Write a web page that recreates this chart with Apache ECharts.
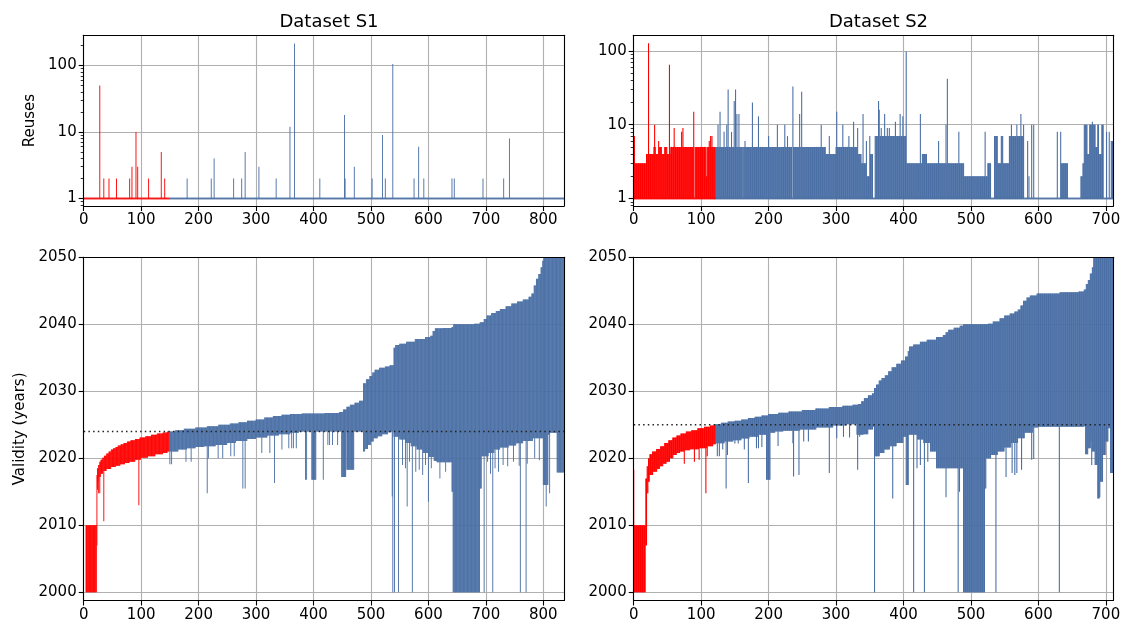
<!DOCTYPE html>
<html><head><meta charset="utf-8">
<script src="https://cdn.jsdelivr.net/npm/echarts@6/dist/echarts.min.js"></script>
<style>html,body{margin:0;padding:0;background:#fff}#c{width:1128px;height:628px}</style>
</head><body><div id="c"></div>
<script>
// ================= DATA =================
const titles = ['Dataset S1', 'Dataset S2'];
const s1Count = 836, s2Count = 711;          // number of certificates (x extent)
const s1RedCount = 150, s2RedCount = 122;    // first items drawn in red
const s1Threshold = 2024, s2Threshold = 2025; // dotted reference year
const s1XTicks = [0,100,200,300,400,500,600,700,800];
const s2XTicks = [0,100,200,300,400,500,600,700];
const yearTicks = [2000,2010,2020,2030,2040,2050];
const logTicks = [1,10,100];
const minorLogTicks = [0.8,0.9,2,3,4,5,6,7,8,9,20,30,40,50,60,70,80,90,200];

// S1 reuses: all 1 except these [index, reuses]
const s1ReuseSpikes = [[28,50],[35,2],[44,2],[57,2],[80,2],[84,3],[91,10],[94,3],[113,2],[135,5],[141,2],
 [180,2],[222,2],[227,4],[261,2],[275,2],[281,5],[305,3],[335,2],[359,12],[367,215],[411,2],[454,18],[455,2],
 [471,3],[502,2],[520,9],[525,2],[538,105],[575,2],[583,6],[592,2],[641,2],[645,2],[695,2],[731,2],[741,8]];

// S2 reuses: runs [fromIndex, reuses] and single spikes [index, reuses]
const s2ReuseRuns = [[0,7],[2,3],[19,4],[30,5],[33,4],[38,5],[42,4],[46,5],[50,4],[55,5],[90,1],[91,5],[108,2],[109,5],
 [162,1],[163,5],[235,1],[236,5],[285,4],[300,5],[333,4],[338,3],[345,2],[350,4],[355,1],[358,7],[404,3],[428,4],[435,3],
 [490,2],[525,3],[530,1],[535,7],[540,3],[545,7],[548,3],[557,7],[578,1],[628,8],[629,1],[633,8],[634,3],[644,1],
 [663,2],[666,3],[668,10],[673,4],[676,10],[685,5],[688,10],[690,4],[694,10],[697,1],[701,8],[702,1],[708,6]];
const s2ReuseSpikes = [[22,127],[31,10],[37,6],[53,65],[60,9],[71,8],[73,9],[89,15],[112,6],[114,7],[116,7],
 [125,10],[128,15],[134,8],[138,10],[140,30],[145,8],[149,21],[151,30],[153,14],[156,14],[165,6],[176,20],[185,13],
 [200,7],[213,10],[224,10],[228,7],[236,33],[246,14],[249,28],[278,10],[290,7],[301,15],[310,10],[319,7],[326,11],
 [332,9],[340,14],[345,6],[350,7],[363,21],[364,16],[367,9],[372,14],[376,9],[379,9],[388,11],[395,14],[399,13],
 [404,98],[425,14],[452,6],[463,10],[465,42],[482,8],[521,8],[560,10],[568,10],[574,14],[578,10],[584,6],[586,2],
 [590,10],[593,10],[680,11],[695,10],[705,8]];

// Validity: end year steps [fromIndex, year], start year steps [fromIndex, year], dips [i0, i1, startYear]
const s1EndSteps = [[4,2010],[23,2017.5],[24,2018.5],[26,2019.0],[28,2019.5],[30,2019.8],[33,2020.1],[36,2020.4],[40,2020.7],
 [44,2021.0],[48,2021.3],[52,2021.5],[56,2021.7],[60,2021.9],[65,2022.1],[70,2022.3],[76,2022.5],[82,2022.7],[90,2022.9],
 [98,2023.1],[108,2023.3],[118,2023.5],[128,2023.7],[138,2023.85],[146,2024.0],[160,2024.2],[175,2024.4],[195,2024.6],
 [215,2024.8],[235,2025.0],[255,2025.2],[270,2025.4],[285,2025.6],[300,2025.8],[315,2026.1],[330,2026.3],[345,2026.5],
 [360,2026.6],[380,2026.7],[420,2026.75],[445,2026.9],[452,2027.3],[458,2027.7],[464,2028.0],[472,2028.3],[480,2028.6],
 [487,2031.2],[492,2031.8],[498,2032.3],[503,2032.8],[507,2033.2],[515,2033.5],[525,2033.7],[533,2033.9],[540,2036.5],
 [543,2036.9],[550,2037.1],[562,2037.4],[577,2037.8],[595,2038.1],[604,2038.3],[608,2039.0],[612,2039.4],[625,2039.45],
 [641,2039.6],[644,2040.0],[680,2040.1],[690,2040.3],[697,2040.8],[702,2041.3],[710,2041.7],[718,2042.0],[725,2042.3],
 [735,2042.7],[745,2043.1],[755,2043.4],[765,2043.7],[775,2044.1],[780,2044.6],[784,2045.8],[788,2046.8],[792,2047.5],
 [796,2048.5],[799,2049.5],[801,2052]];
const s1StartSteps = [[4,2000],[23,2015.5],[25,2016.5],[27,2017.2],[30,2017.7],[34,2018.1],[40,2018.4],[48,2018.7],[56,2018.9],
 [64,2019.1],[72,2019.3],[80,2019.5],[90,2019.8],[100,2020.1],[112,2020.3],[125,2020.6],[138,2020.8],[146,2021.0],[165,2021.3],
 [180,2021.5],[195,2021.7],[210,2021.8],[230,2022.0],[250,2022.3],[265,2022.6],[285,2022.9],[300,2023.1],[320,2023.4],
 [340,2023.6],[360,2023.8],[375,2024.0],[487,2021.0],[490,2021.4],[495,2022.0],[500,2022.5],[505,2023.0],[512,2023.3],
 [520,2023.6],[530,2023.9],[536,2024.0],[540,2023.2],[550,2022.8],[560,2022.3],[570,2021.8],[580,2021.3],[590,2020.8],
 [600,2020.2],[610,2019.6],[615,2019.4],[643,2000],[690,2015.5],[693,2020.3],[705,2020.8],[715,2021.3],[725,2021.6],
 [740,2021.9],[753,2022.25],[765,2022.6],[782,2023.0],[800,2023.5],[812,2023.8],[824,2017.9]];
const s1Dips = [[23,23,2007],[24,24,2015.3],[26,26,2014.8],[28,28,2014.8],[35,35,2010.6],[96,96,2013.0],
 [150,150,2019.1],[153,153,2019.1],[178,178,2019.5],[187,187,2019.5],[215,215,2014.8],[217,217,2020.0],[234,234,2020.0],
 [242,242,2020.0],[256,256,2020.3],[262,262,2020.3],[277,277,2015.5],[281,281,2015.5],[310,310,2020.8],[324,324,2020.8],
 [332,332,2016.3],[345,345,2021.3],[357,357,2021.5],[362,362,2021.5],[365,365,2021.5],[370,370,2021.5],[386,386,2016.8],
 [388,388,2016.8],[397,404,2016.8],[417,417,2016.8],[425,425,2022.0],[428,428,2022.0],[433,433,2022.0],[442,442,2022.0],
 [449,456,2017.2],[458,470,2018.3],[537,537,2014.3],[538,538,2000],[541,541,2000],[548,548,2000],[555,555,2019.0],
 [560,560,2018.5],[563,563,2012.8],[567,567,2019.5],[572,572,2000],[578,578,2018.0],[584,584,2018.3],[590,590,2017.5],
 [595,595,2019.0],[600,600,2013.5],[605,605,2018.5],[620,620,2017.0],[630,630,2018.0],[641,642,2015.0],[697,697,2000],
 [703,703,2019.5],[708,708,2017.7],[712,712,2000],[716,716,2018.5],[722,722,2018.0],[730,730,2019.0],[738,738,2018.8],
 [748,748,2019.5],[758,758,2018.9],[760,760,2000],[770,770,2000],[772,772,2019.2],[785,785,2020.0],[793,793,2019.7],
 [800,808,2016.0],[805,805,2012.8],[811,811,2014.8]];

const s2EndSteps = [[0,2018.3],[1,2010],[18,2017],[20,2018.8],[22,2020.0],[24,2020.6],[28,2021.0],[34,2021.4],[40,2021.8],
 [46,2022.3],[52,2022.7],[58,2023.1],[64,2023.4],[70,2023.7],[78,2024.0],[86,2024.2],[95,2024.5],[105,2024.7],[114,2024.9],
 [120,2025.1],[130,2025.3],[140,2025.5],[150,2025.6],[160,2025.8],[170,2026.0],[180,2026.2],[190,2026.4],[200,2026.6],
 [215,2026.8],[230,2027.0],[250,2027.2],[270,2027.45],[290,2027.65],[310,2027.85],[325,2028.0],[333,2028.1],[338,2028.5],
 [342,2029.0],[348,2029.4],[354,2029.7],[357,2030.5],[360,2031.0],[364,2031.6],[368,2032.0],[373,2032.4],[378,2033.0],
 [383,2033.6],[390,2034.1],[397,2034.6],[403,2035.2],[407,2036.0],[409,2036.7],[415,2037.0],[425,2037.4],[435,2037.7],
 [449,2038.1],[459,2038.4],[463,2038.8],[467,2039.2],[475,2039.5],[484,2039.8],[489,2040.0],[526,2040.1],[533,2040.4],
 [543,2040.9],[550,2041.3],[558,2041.6],[565,2041.9],[570,2042.2],[574,2042.8],[578,2043.5],[583,2044.0],[588,2044.3],
 [598,2044.6],[632,2044.8],[660,2044.9],[668,2045.2],[671,2046.0],[674,2046.6],[677,2047.6],[680,2048.5],[682,2052]];
const s2StartSteps = [[0,2000],[18,2007],[20,2015.0],[22,2016.5],[24,2017.5],[29,2018.0],[35,2018.4],[39,2018.8],[44,2019.2],
 [49,2019.5],[54,2020.0],[59,2020.5],[64,2020.8],[69,2021.0],[76,2021.2],[84,2021.35],[98,2021.5],[110,2021.8],[118,2022.1],
 [122,2022.25],[135,2022.5],[148,2022.7],[160,2022.95],[172,2023.2],[185,2023.5],[197,2023.8],[210,2024.0],[222,2024.1],
 [247,2024.3],[271,2024.6],[296,2024.9],[315,2025.1],[331,2023.5],[341,2023.6],[348,2024.3],[355,2024.7],[358,2020.3],
 [365,2020.8],[372,2021.3],[380,2021.8],[390,2022.3],[400,2023.2],[408,2023.5],[420,2022.8],[430,2022.3],[440,2021.0],
 [449,2018.5],[489,2000],[521,2015.5],[523,2020.0],[530,2020.5],[540,2021.0],[550,2021.6],[560,2022.3],[570,2023.0],
 [580,2023.8],[592,2024.6],[600,2024.7],[668,2024.8],[670,2020.6],[674,2021.5],[678,2022.5],[680,2021.0],[684,2019.0],
 [688,2014.2],[692,2016.5],[696,2020.5],[700,2022.5],[704,2024.5],[707,2017.8]];
const s2Dips = [[20,21,2014.8],[75,75,2019.2],[90,90,2019.5],[97,97,2019.8],[107,107,2014.8],[109,109,2020.3],
 [124,124,2020.3],[127,127,2020.3],[132,132,2021.3],[137,137,2015.5],[139,139,2020.5],[150,150,2022.2],[155,155,2022.2],
 [160,160,2023.0],[164,164,2021.3],[170,170,2016.3],[182,182,2021.5],[185,185,2021.5],[190,190,2021.7],[197,202,2016.8],
 [214,214,2021.85],[236,236,2022.25],[237,237,2017.3],[245,245,2017.5],[252,252,2022.5],[259,259,2022.5],[290,290,2017.8],
 [301,301,2023.0],[311,311,2023.2],[320,320,2023.1],[332,332,2018.3],[335,335,2023.2],[357,357,2000],[384,384,2014.0],
 [404,407,2016.0],[415,415,2000],[420,420,2018.5],[425,425,2019.0],[431,431,2000],[436,436,2019.5],[463,463,2014.2],
 [481,481,2000],[483,483,2015.0],[537,537,2000],[552,552,2017.2],[561,561,2017.8],[565,565,2017.5],[568,568,2017.8],
 [575,575,2018.3],[590,590,2019.8],[593,593,2019.9],[631,631,2000],[679,679,2019.0],[688,690,2014.0]];

// ================= BUILD =================
const RED = '#ff0000', BLUE = '#4a6fa5', FONT = 'DejaVu Sans';
function stepAt(steps, i) { let v = null; for (const [k, val] of steps) { if (k <= i) v = val; else break; } return v; }
function buildValidity(n, endSteps, startSteps, dips) {
  const out = [];
  for (let i = 0; i < n; i++) {
    const hi = stepAt(endSteps, i), lo0 = stepAt(startSteps, i);
    if (hi == null || lo0 == null) continue;
    let lo = lo0;
    for (const [a, b, y] of dips) if (i >= a && i <= b) lo = Math.min(lo, y);
    out.push([i, lo, hi]);
  }
  return out;
}
function buildS1Reuses() { return s1ReuseSpikes.map(([i, v]) => [i, 1, v]); }
function buildS2Reuses() {
  const vals = [];
  for (let i = 0; i < s2Count; i++) vals.push(stepAt(s2ReuseRuns, i));
  for (const [i, v] of s2ReuseSpikes) vals[i] = v;
  const out = [];
  vals.forEach((v, i) => { if (v > 1) out.push([i, 1, v]); });
  return out;
}
function barItem(redCount) {
  return function (params, api) {
    const i = api.value(0), lo = api.value(1), hi = api.value(2);
    const a = api.coord([i - 0.8, hi]), b = api.coord([i + 0.8, lo]);
    const cs = params.coordSys;
    const shape = echarts.graphic.clipRectByRect(
      { x: a[0], y: a[1], width: b[0] - a[0], height: b[1] - a[1] },
      { x: cs.x, y: cs.y, width: cs.width, height: cs.height });
    if (!shape) return null;
    return { type: 'rect', shape: shape, style: { fill: i < redCount ? RED : BLUE } };
  };
}

const grids = [
  { left: 83.7, top: 35.3, width: 480.3, height: 170.7 },
  { left: 633.7, top: 35.3, width: 479.6, height: 170.7 },
  { left: 83.7, top: 257.3, width: 480.3, height: 343.2 },
  { left: 633.7, top: 257.3, width: 479.6, height: 343.2 }
];
const labelStyle = { color: '#000', fontSize: 15, fontFamily: FONT };
const tickStyle = { color: '#000', width: 1.1 };
const gridLine = { show: true, lineStyle: { color: '#b0b0b0', width: 1.1 } };
const plain = v => String(v);
function mainX(g, max, ticks) {
  return { type: 'value', gridIndex: g, min: 0, max: max, interval: 100, position: 'bottom',
    axisLine: { show: false }, axisTick: { show: true, length: 5, lineStyle: tickStyle, customValues: ticks },
    axisLabel: { ...labelStyle, margin: 7, customValues: ticks, formatter: plain }, splitLine: gridLine };
}
function frameAxis(g, pos) {
  return { type: 'value', gridIndex: g, position: pos, min: 0, max: 1, z: 10,
    axisLine: { show: true, onZero: false, lineStyle: { color: '#000', width: 1.1 } },
    axisTick: { show: false }, axisLabel: { show: false }, splitLine: { show: false } };
}
const xAxes = [mainX(0, s1Count, s1XTicks), mainX(1, s2Count, s2XTicks), mainX(2, s1Count, s1XTicks), mainX(3, s2Count, s2XTicks)];
for (let g = 0; g < 4; g++) { xAxes.push(frameAxis(g, 'top')); xAxes.push(frameAxis(g, 'bottom')); }
function logY(g, min, max, name) {
  return { type: 'log', logBase: 10, gridIndex: g, min: min, max: max, position: 'left',
    name: name, nameLocation: 'middle', nameGap: 46, nameTextStyle: { ...labelStyle },
    axisLine: { show: false }, axisTick: { show: true, length: 5, lineStyle: tickStyle, customValues: logTicks },
    axisLabel: { ...labelStyle, margin: 7, customValues: logTicks, formatter: plain }, splitLine: gridLine };
}
function minorY(g, min, max) {
  return { type: 'log', logBase: 10, gridIndex: g, min: min, max: max, position: 'left',
    axisLine: { show: false }, axisTick: { show: true, length: 3, lineStyle: { color: '#000', width: 0.8 }, customValues: minorLogTicks },
    axisLabel: { show: false }, splitLine: { show: false } };
}
function yearY(g, name) {
  return { type: 'value', gridIndex: g, min: 1998.78, max: 2050, position: 'left',
    name: name, nameLocation: 'middle', nameGap: 56, nameTextStyle: { ...labelStyle },
    axisLine: { show: false }, axisTick: { show: true, length: 5, lineStyle: tickStyle, customValues: yearTicks },
    axisLabel: { ...labelStyle, margin: 7, customValues: yearTicks, formatter: plain }, splitLine: gridLine };
}
const yAxes = [logY(0, 0.77, 285, 'Reuses'), logY(1, 0.79, 163, ''), yearY(2, 'Validity (years)'), yearY(3, '')];
for (let g = 0; g < 4; g++) { yAxes.push(frameAxis(g, 'left')); yAxes.push(frameAxis(g, 'right')); }
yAxes.push(minorY(0, 0.77, 285)); yAxes.push(minorY(1, 0.79, 163));

function baseline(xi, yi, from, to, color) {
  return { type: 'line', xAxisIndex: xi, yAxisIndex: yi, data: [[from, 1], [to, 1]], symbol: 'none', silent: true, z: 3,
    lineStyle: { color: color, width: 2, opacity: 0.85 } };
}
function dotted(xi, yi, n, year) {
  return { type: 'line', xAxisIndex: xi, yAxisIndex: yi, data: [[0, year], [n, year]], symbol: 'none', silent: true, z: 5,
    lineStyle: { color: '#222', width: 1.5, type: [1.5, 3.2] } };
}
function bars(xi, yi, data, red) {
  return { type: 'custom', xAxisIndex: xi, yAxisIndex: yi, data: data, renderItem: barItem(red), silent: true, z: 2,
    encode: { x: 0, y: [1, 2] } };
}

const option = {
  animation: false,
  backgroundColor: '#fff',
  textStyle: { fontFamily: FONT },
  title: [
    { text: titles[0], left: 324, top: 8, textAlign: 'center', textStyle: { fontSize: 18, fontWeight: 'normal', color: '#000', fontFamily: FONT } },
    { text: titles[1], left: 873.5, top: 8, textAlign: 'center', textStyle: { fontSize: 18, fontWeight: 'normal', color: '#000', fontFamily: FONT } }
  ],
  grid: grids,
  xAxis: xAxes,
  yAxis: yAxes,
  series: [
    baseline(0, 0, 0, s1RedCount, RED), baseline(0, 0, s1RedCount, s1Count, BLUE),
    bars(0, 0, buildS1Reuses(), s1RedCount),
    baseline(1, 1, 0, s2RedCount, RED), baseline(1, 1, s2RedCount, s2Count, BLUE),
    bars(1, 1, buildS2Reuses(), s2RedCount),
    bars(2, 2, buildValidity(s1Count, s1EndSteps, s1StartSteps, s1Dips), s1RedCount),
    dotted(2, 2, s1Count, s1Threshold),
    bars(3, 3, buildValidity(s2Count, s2EndSteps, s2StartSteps, s2Dips), s2RedCount),
    dotted(3, 3, s2Count, s2Threshold)
  ]
};
const chart = echarts.init(document.getElementById('c'), null, { renderer: 'canvas', width: 1128, height: 628 });
chart.setOption(option);
</script></body></html>
